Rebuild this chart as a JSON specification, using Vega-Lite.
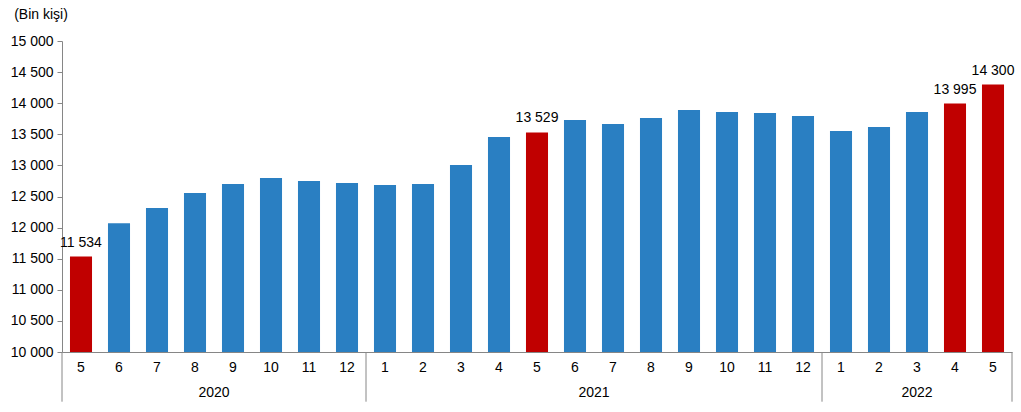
{
  "$schema": "https://vega.github.io/schema/vega-lite/v6.json",
  "autosize": {"type": "none"},
  "padding": {"left": 62, "top": 41, "right": 9, "bottom": 60},
  "width": 950,
  "height": 311,
  "background": "white",
  "title": {
    "text": "(Bin kişi)",
    "anchor": "start",
    "frame": "bounds",
    "dx": 4,
    "offset": 12,
    "fontSize": 14,
    "fontWeight": "normal",
    "font": "Liberation Sans",
    "color": "#000000"
  },
  "config": {
    "view": {"stroke": null},
    "locale": {"number": {"decimal": ",", "thousands": " ", "grouping": [3], "currency": ["", ""]}},
    "font": "Liberation Sans",
    "axisX": {
      "title": null,
      "labelExpr": "split(datum.value, '-')[1]",
      "labelAngle": 0,
      "labelFontSize": 14,
      "labelColor": "#000000",
      "labelPadding": 8,
      "ticks": false,
      "tickSize": 0,
      "domainColor": "#868686",
      "domainWidth": 1,
      "grid": false
    },
    "axisY": {
      "title": null,
      "tickCount": 10,
      "format": ",d",
      "labelFontSize": 14,
      "labelColor": "#000000",
      "labelPadding": 4,
      "labelOverlap": false,
      "tickSize": 5,
      "tickColor": "#868686",
      "domainColor": "#868686",
      "grid": false
    }
  },
  "layer": [
    {
      "data": {
        "values": [
          {"key": "2020-5", "year": 2020, "month": 5, "value": 11534, "hl": true},
          {"key": "2020-6", "year": 2020, "month": 6, "value": 12070, "hl": false},
          {"key": "2020-7", "year": 2020, "month": 7, "value": 12315, "hl": false},
          {"key": "2020-8", "year": 2020, "month": 8, "value": 12556, "hl": false},
          {"key": "2020-9", "year": 2020, "month": 9, "value": 12700, "hl": false},
          {"key": "2020-10", "year": 2020, "month": 10, "value": 12797, "hl": false},
          {"key": "2020-11", "year": 2020, "month": 11, "value": 12750, "hl": false},
          {"key": "2020-12", "year": 2020, "month": 12, "value": 12717, "hl": false},
          {"key": "2021-1", "year": 2021, "month": 1, "value": 12685, "hl": false},
          {"key": "2021-2", "year": 2021, "month": 2, "value": 12700, "hl": false},
          {"key": "2021-3", "year": 2021, "month": 3, "value": 13006, "hl": false},
          {"key": "2021-4", "year": 2021, "month": 4, "value": 13457, "hl": false},
          {"key": "2021-5", "year": 2021, "month": 5, "value": 13529, "hl": true},
          {"key": "2021-6", "year": 2021, "month": 6, "value": 13730, "hl": false},
          {"key": "2021-7", "year": 2021, "month": 7, "value": 13666, "hl": false},
          {"key": "2021-8", "year": 2021, "month": 8, "value": 13762, "hl": false},
          {"key": "2021-9", "year": 2021, "month": 9, "value": 13891, "hl": false},
          {"key": "2021-10", "year": 2021, "month": 10, "value": 13859, "hl": false},
          {"key": "2021-11", "year": 2021, "month": 11, "value": 13842, "hl": false},
          {"key": "2021-12", "year": 2021, "month": 12, "value": 13794, "hl": false},
          {"key": "2022-1", "year": 2022, "month": 1, "value": 13553, "hl": false},
          {"key": "2022-2", "year": 2022, "month": 2, "value": 13617, "hl": false},
          {"key": "2022-3", "year": 2022, "month": 3, "value": 13859, "hl": false},
          {"key": "2022-4", "year": 2022, "month": 4, "value": 13995, "hl": true},
          {"key": "2022-5", "year": 2022, "month": 5, "value": 14300, "hl": true}
        ]
      },
      "layer": [
        {
          "mark": {"type": "bar", "width": {"band": 0.58}},
          "encoding": {
            "x": {
              "field": "key",
              "type": "nominal",
              "scale": {
                "domain": ["2020-5","2020-6","2020-7","2020-8","2020-9","2020-10","2020-11","2020-12","2021-1","2021-2","2021-3","2021-4","2021-5","2021-6","2021-7","2021-8","2021-9","2021-10","2021-11","2021-12","2022-1","2022-2","2022-3","2022-4","2022-5"],
                "paddingInner": 0,
                "paddingOuter": 0
              }
            },
            "y": {
              "field": "value",
              "type": "quantitative",
              "scale": {"domain": [10000, 15000], "nice": false, "zero": false}
            },
            "y2": {"datum": 10000},
            "color": {
              "condition": {"test": "datum.hl", "value": "#C00000"},
              "value": "#2A7FC2"
            }
          }
        },
        {
          "transform": [{"filter": "datum.hl"}],
          "mark": {"type": "text", "baseline": "alphabetic", "dy": -10, "fontSize": 14, "color": "#000000"},
          "encoding": {
            "x": {"field": "key", "type": "nominal"},
            "y": {"field": "value", "type": "quantitative"},
            "text": {"field": "value", "type": "quantitative", "format": ",d"}
          }
        }
      ]
    },
    {
      "data": {"values": [{"key": "2020-5"}, {"key": "2021-1"}, {"key": "2022-1"}]},
      "mark": {"type": "rule", "color": "#868686", "strokeWidth": 1},
      "encoding": {
        "x": {"field": "key", "type": "nominal", "bandPosition": 0},
        "y": {"datum": 10000},
        "y2": {"datum": 9201}
      }
    },
    {
      "data": {"values": [{"key": "2022-5"}]},
      "mark": {"type": "rule", "color": "#868686", "strokeWidth": 1},
      "encoding": {
        "x": {"field": "key", "type": "nominal", "bandPosition": 1},
        "y": {"datum": 10000},
        "y2": {"datum": 9201}
      }
    },
    {
      "data": {"values": [{"key": "2020-8", "label": "2020"}, {"key": "2021-6", "label": "2021"}]},
      "mark": {"type": "text", "baseline": "middle", "fontSize": 14, "color": "#000000"},
      "encoding": {
        "x": {"field": "key", "type": "nominal", "bandPosition": 1},
        "y": {"datum": 9336},
        "text": {"field": "label"}
      }
    },
    {
      "data": {"values": [{"key": "2022-3", "label": "2022"}]},
      "mark": {"type": "text", "baseline": "middle", "fontSize": 14, "color": "#000000"},
      "encoding": {
        "x": {"field": "key", "type": "nominal", "bandPosition": 0.5},
        "y": {"datum": 9336},
        "text": {"field": "label"}
      }
    }
  ]
}
